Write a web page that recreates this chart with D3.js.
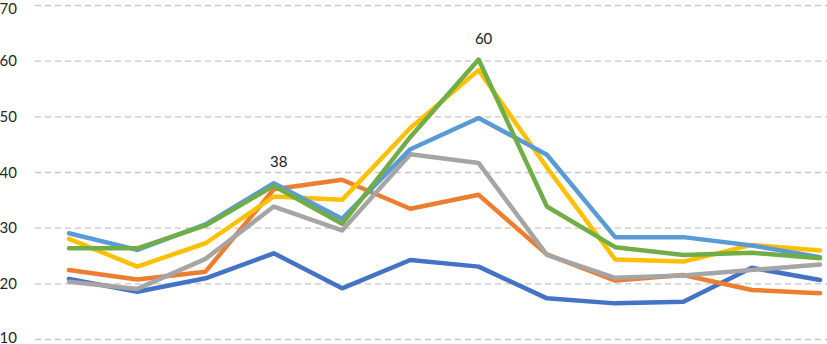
<!DOCTYPE html>
<html>
<head>
<meta charset="utf-8">
<script src="https://cdn.jsdelivr.net/npm/d3@7"></script>
<style>
  html, body { margin: 0; padding: 0; background: #fff; }
  #chart { width: 827px; height: 344px; }
</style>
</head>
<body>
<div id="chart"></div>
<script>
// categories (no labels shown on x axis)
const categories = d3.range(1, 13);
const yTicks = [10, 20, 30, 40, 50, 60, 70];

// series values, drawn in this order (later on top)
const seriesDarkBlue  = [20.8, 18.5, 20.9, 25.4, 19.1, 24.2, 23.0, 17.3, 16.4, 16.7, 22.8, 20.6];
const seriesOrange    = [22.4, 20.7, 22.1, 36.9, 38.6, 33.4, 35.9, 25.2, 20.5, 21.5, 18.8, 18.2];
const seriesGray      = [20.3, 19.0, 24.4, 33.8, 29.5, 43.2, 41.6, 25.1, 21.0, 21.4, 22.4, 23.4];
const seriesYellow    = [28.0, 23.0, 27.2, 35.6, 35.0, 47.9, 58.3, 40.8, 24.3, 23.9, 26.9, 25.9];
const seriesLightBlue = [29.0, 26.0, 30.6, 38.0, 31.6, 44.1, 49.7, 43.1, 28.3, 28.3, 26.8, 24.7];
const seriesGreen     = [26.3, 26.3, 30.4, 37.5, 30.7, 46.3, 60.2, 33.8, 26.5, 25.1, 25.5, 24.5];

const seriesList = [
    { name: 'darkBlue', values: seriesDarkBlue, color: '#4472C4' },
    { name: 'orange', values: seriesOrange, color: '#ED7D31' },
    { name: 'gray', values: seriesGray, color: '#A5A5A5' },
    { name: 'yellow', values: seriesYellow, color: '#FFC000' },
    { name: 'lightBlue', values: seriesLightBlue, color: '#5B9BD5' },
    { name: 'green', values: seriesGreen, color: '#70AD47' }
];

// data labels shown on the chart
const labels = [
    { series: 'lightBlue', index: 3, text: '38' },
    { series: 'green', index: 6, text: '60' }
];

const width = 827, height = 344;
const svg = d3.select('#chart').append('svg')
    .attr('width', width)
    .attr('height', height)
    .style('font-family', 'Lato, "Open Sans", sans-serif');

const xScale = d3.scalePoint()
    .domain(categories)
    .range([69, 820]);

const yScale = d3.scaleLinear()
    .domain([10, 70])
    .range([339, 5]);

// gridlines + tick labels
const yAxis = svg.append('g')
    .attr('class', 'y-axis')
    .attr('transform', 'translate(35,0)')
    .call(d3.axisLeft(yScale).tickValues(yTicks).tickSize(-(width - 35)).tickPadding(18));

yAxis.select('.domain').remove();
yAxis.selectAll('.tick line')
    .attr('stroke', '#c6c6c6')
    .attr('stroke-width', 1.3)
    .attr('stroke-dasharray', '6,4');
yAxis.selectAll('.tick text')
    .attr('fill', '#262626')
    .attr('dy', d => d === 70 ? '0.55em' : d === 10 ? '0.2em' : '0.35em')
    .style('font-size', '15px')
    .style('font-family', 'Lato, "Open Sans", sans-serif');

const line = d3.line()
    .x((d, i) => xScale(categories[i]))
    .y(d => yScale(d));

svg.append('g').attr('class', 'line-group')
    .selectAll('path')
    .data(seriesList)
    .join('path')
    .attr('d', d => line(d.values))
    .attr('fill', 'none')
    .attr('stroke', d => d.color)
    .attr('stroke-width', 4.5)
    .attr('stroke-linejoin', 'round')
    .attr('stroke-linecap', 'round');

svg.append('g').attr('class', 'label-group')
    .selectAll('text')
    .data(labels)
    .join('text')
    .attr('x', d => xScale(categories[d.index]) + 5)
    .attr('y', d => {
        const s = seriesList.find(s => s.name === d.series);
        return yScale(s.values[d.index]) - 16;
    })
    .attr('text-anchor', 'middle')
    .attr('fill', '#222')
    .style('font-size', '15px')
    .text(d => d.text);
</script>
</body>
</html>
